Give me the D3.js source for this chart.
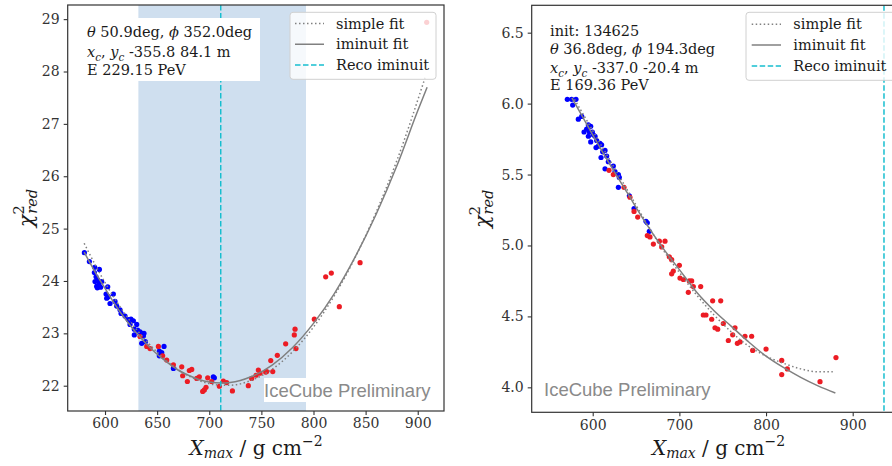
<!DOCTYPE html>
<html>
<head>
<meta charset="utf-8">
<script src="https://cdn.jsdelivr.net/npm/d3@7"></script>
<style>
  html, body { margin: 0; padding: 0; background: #fff; }
  svg { display: block; }
</style>
</head>
<body>
<svg id="chart" width="892" height="466"></svg>
<script>
// ---------------- DATA ----------------
// Left panel (event 1)
const leftXTicks = [600, 650, 700, 750, 800, 850, 900];
const leftYTicks = [22, 23, 24, 25, 26, 27, 28, 29];
const leftBlue = [[580.2,24.54],[585.0,24.37],[590.1,24.26],[594.6,24.22],[589.8,24.16],[591.4,24.08],[593.0,24.02],[590.4,23.99],[592.0,23.90],[594.6,23.96],[595.8,23.88],[592.6,23.87],[596.8,23.99],[602.6,23.89],[601.0,23.75],[603.2,23.70],[608.0,23.75],[601.6,23.67],[604.8,23.57],[609.6,23.61],[611.2,23.52],[614.4,23.45],[615.4,23.38],[619.2,23.33],[622.4,23.26],[624.9,23.27],[627.2,23.24],[630.4,23.17],[624.0,23.17],[628.1,23.08],[631.3,23.06],[628.1,22.97],[633.6,23.03],[635.2,23.00],[637.4,23.00],[636.8,22.95],[635.2,22.81],[638.7,22.84],[652.1,22.66],[654.4,22.63],[656.6,22.75],[652.1,22.57],[665.6,22.33],[703.9,22.17],[704.9,22.15]];
const leftRed = [[633.6,22.94],[640.0,22.75],[643.2,22.71],[651.2,22.75],[655.3,22.57],[659.2,22.49],[665.6,22.40],[673.6,22.36],[674.5,22.19],[680.9,22.29],[683.2,22.31],[679.0,22.08],[688.0,22.14],[690.5,22.17],[693.7,21.89],[695.3,21.92],[696.9,21.97],[698.5,22.15],[702.3,22.08],[709.7,21.99],[713.5,22.09],[716.7,22.06],[722.2,21.90],[737.5,22.00],[740.7,22.14],[744.9,22.20],[747.1,22.30],[748.7,22.24],[754.1,22.26],[755.1,22.27],[759.0,22.48],[760.9,22.27],[765.3,22.58],[773.3,22.80],[781.6,22.97],[782.3,23.08],[783.2,22.71],[800.8,23.27],[811.7,24.08],[817.1,24.15],[824.8,23.51],[844.7,24.35],[908.6,28.94]];
const leftIminuitFit = [[580,24.55],[590,24.19],[600,23.86],[610,23.54],[620,23.26],[630,23.01],[640,22.79],[650,22.60],[660,22.44],[670,22.30],[680,22.20],[690,22.12],[700,22.07],[712,22.05],[720,22.06],[740,22.17],[760,22.39],[780,22.73],[800,23.19],[820,23.76],[840,24.46],[860,25.27],[880,26.20],[900,27.25],[909,27.70]];
const leftSimpleFit = [[580,24.72],[590,24.33],[600,23.97],[610,23.64],[620,23.35],[630,23.08],[640,22.85],[650,22.64],[660,22.46],[670,22.31],[680,22.19],[690,22.10],[700,22.04],[712,22.01],[720,22.01],[740,22.10],[760,22.31],[780,22.65],[800,23.12],[820,23.72],[840,24.45],[860,25.31],[880,26.30],[907,27.88]];
const leftBand = [632, 792.8];
const leftReco = 711;
const leftInfo = ["θ 50.9deg, ϕ 352.0deg", "xc, yc -355.8 84.1 m", "E 229.15 PeV"];

// Right panel (event 2)
const rightXTicks = [600, 700, 800, 900];
const rightYTicks = [4.0, 4.5, 5.0, 5.5, 6.0, 6.5];
const rightBlue = [[570.7,6.03],[575.7,6.03],[580.7,6.03],[576.9,5.99],[587.3,5.91],[583.4,5.89],[595.0,5.85],[597.7,5.84],[593.0,5.82],[590.0,5.80],[596.1,5.80],[599.6,5.80],[600.7,5.78],[595.0,5.77],[602.7,5.77],[597.7,5.73],[604.6,5.74],[608.4,5.72],[606.5,5.70],[603.8,5.69],[610.3,5.71],[611.5,5.66],[614.2,5.67],[616.1,5.63],[609.6,5.62],[618.0,5.59],[614.2,5.54],[623.8,5.56],[625.7,5.52],[629.6,5.50],[630.7,5.48],[629.6,5.41],[642.3,5.35],[647.7,5.26],[661.5,5.17],[663.0,5.16],[665.3,5.10]];
const rightRed = [[618.8,5.53],[623.8,5.50],[636.1,5.41],[643.0,5.34],[647.7,5.24],[651.9,5.20],[663.0,5.07],[666.1,5.06],[670.0,5.01],[676.9,5.03],[683.4,5.03],[679.6,4.99],[688.4,4.92],[691.1,4.90],[700.0,4.86],[693.0,4.82],[691.1,4.80],[700.7,4.77],[704.6,4.76],[711.5,4.75],[714.2,4.75],[716.1,4.71],[710.3,4.67],[724.6,4.71],[738.4,4.61],[747.7,4.61],[727.6,4.51],[730.7,4.51],[737.3,4.48],[741.1,4.42],[744.2,4.41],[750.7,4.45],[764.2,4.42],[756.5,4.33],[761.5,4.37],[766.9,4.31],[770.0,4.32],[775.7,4.36],[783.4,4.36],[784.6,4.26],[800.0,4.27],[818.1,4.19],[824.6,4.13],[818.1,4.09],[862.3,4.04],[880.7,4.21]];
const rightIminuitFit = [[576,6.04],[600,5.78],[620,5.57],[640,5.37],[660,5.17],[680,4.99],[700,4.83],[720,4.67],[740,4.54],[760,4.43],[780,4.32],[800,4.22],[820,4.14],[840,4.07],[860,4.01],[880,3.96]];
const rightSimpleFit = [[579,6.03],[600,5.81],[620,5.60],[640,5.39],[660,5.18],[680,4.98],[700,4.81],[720,4.65],[740,4.51],[760,4.39],[780,4.29],[800,4.22],[820,4.17],[840,4.13],[860,4.11],[877,4.11]];
const rightReco = 936.1;
const rightInfo = ["init: 134625", "θ 36.8deg, ϕ 194.3deg", "xc, yc -337.0 -20.4 m", "E 169.36 PeV"];

const legendLabels = ["simple fit", "iminuit fit", "Reco iminuit"];
const watermark = "IceCube Preliminary";

// ---------------- STYLE ----------------
const SERIF = "'DejaVu Serif', serif";
const SANS = "'Liberation Sans', Arial, sans-serif";
const C_BLUE = "#0000ff", C_RED = "#ec1c24", C_FIT = "#808080", C_CYAN = "#17becf";
const C_AX = "#333";

const svg = d3.select("#chart");

function richLine(textSel, str, size) {
  const tokens = [];
  if (str.startsWith("xc, yc")) {
    tokens.push({t: "x", it: true}, {t: "c", it: true, sub: true}, {t: ", ", back: true},
                {t: "y", it: true}, {t: "c", it: true, sub: true}, {t: str.slice(6), back: true});
  } else {
    str.split(/([θϕ])/).forEach(p => { if (p.length) tokens.push({t: p, it: (p === "θ" || p === "ϕ")}); });
  }
  tokens.forEach(tk => {
    const ts = textSel.append("tspan").text(tk.t);
    if (tk.it) ts.attr("font-style", "italic");
    if (tk.sub) ts.attr("dy", 3.5).attr("font-size", size * 0.72);
    if (tk.back) ts.attr("dy", -3.5);
  });
}

function panel(cfg) {
  const x = d3.scaleLinear().domain(cfg.xDomain).range([cfg.left, cfg.right]);
  const y = d3.scaleLinear().domain(cfg.yDomain).range([cfg.bottom, cfg.top]);
  const g = svg.append("g");
  const clipId = "clip" + cfg.id;
  svg.append("clipPath").attr("id", clipId).append("rect")
    .attr("x", cfg.left).attr("y", cfg.top)
    .attr("width", cfg.right - cfg.left).attr("height", cfg.bottom - cfg.top);
  const plot = g.append("g").attr("clip-path", `url(#${clipId})`);

  if (cfg.band) {
    plot.append("rect")
      .attr("x", x(cfg.band[0])).attr("y", cfg.top)
      .attr("width", x(cfg.band[1]) - x(cfg.band[0])).attr("height", cfg.bottom - cfg.top)
      .attr("fill", "#cfdfef");
  }

  plot.append("g").selectAll("circle").data(cfg.blue).join("circle")
    .attr("cx", d => x(d[0])).attr("cy", d => y(d[1])).attr("r", 2.6).attr("fill", C_BLUE);
  plot.append("g").selectAll("circle").data(cfg.red).join("circle")
    .attr("cx", d => x(d[0])).attr("cy", d => y(d[1])).attr("r", 2.6).attr("fill", C_RED);

  const line = d3.line().x(d => x(d[0])).y(d => y(d[1])).curve(d3.curveMonotoneX);
  plot.append("path").datum(cfg.simple).attr("d", line)
    .attr("fill", "none").attr("stroke", C_FIT).attr("stroke-width", 1.5)
    .attr("stroke-dasharray", "1.5,2.5");
  plot.append("path").datum(cfg.iminuit).attr("d", line)
    .attr("fill", "none").attr("stroke", C_FIT).attr("stroke-width", 1.5);

  plot.append("line")
    .attr("x1", x(cfg.reco)).attr("x2", x(cfg.reco))
    .attr("y1", cfg.top).attr("y2", cfg.bottom)
    .attr("stroke", C_CYAN).attr("stroke-width", 1.5).attr("stroke-dasharray", "5.5,2.5");

  if (cfg.infoBox) {
    g.append("rect").attr("x", cfg.infoBox[0]).attr("y", cfg.infoBox[1])
      .attr("width", cfg.infoBox[2]).attr("height", cfg.infoBox[3]).attr("fill", "#fff");
  }
  cfg.info.forEach((s, i) => {
    const t = g.append("text").attr("x", cfg.infoX).attr("y", cfg.infoY[i])
      .attr("font-family", SERIF).attr("font-size", 14.5).attr("fill", "#1a1a1a");
    richLine(t, s, 14.5);
  });

  if (cfg.wmBox) {
    g.append("rect").attr("x", cfg.wmBox[0]).attr("y", cfg.wmBox[1])
      .attr("width", cfg.wmBox[2]).attr("height", cfg.wmBox[3]).attr("fill", "#fff");
  }
  g.append("text").attr("x", cfg.wmX).attr("y", cfg.wmY)
    .attr("font-family", SANS).attr("font-size", 18.5).attr("fill", "#8a8a8a")
    .text(watermark);

  const lg = g.append("g").attr("clip-path", `url(#${clipId})`);
  lg.append("rect").attr("x", cfg.legend.x).attr("y", cfg.legend.y)
    .attr("width", cfg.legend.w).attr("height", cfg.legend.h).attr("rx", 3)
    .attr("fill", "#fff").attr("fill-opacity", 0.8).attr("stroke", "#d0d0d0").attr("stroke-width", 1);
  const styles = [
    {stroke: C_FIT, dash: "1.5,2.5"},
    {stroke: C_FIT, dash: null},
    {stroke: C_CYAN, dash: "5.5,2.5"}
  ];
  legendLabels.forEach((lab, i) => {
    const ly = cfg.legend.rows[i];
    const ln = lg.append("line").attr("x1", cfg.legend.sx0).attr("x2", cfg.legend.sx1)
      .attr("y1", ly).attr("y2", ly).attr("stroke", styles[i].stroke).attr("stroke-width", 1.5);
    if (styles[i].dash) ln.attr("stroke-dasharray", styles[i].dash);
    lg.append("text").attr("x", cfg.legend.tx).attr("y", ly + 5)
      .attr("font-family", SERIF).attr("font-size", 14.5).attr("fill", "#1a1a1a").text(lab);
  });

  g.append("rect").attr("x", cfg.left).attr("y", cfg.top)
    .attr("width", cfg.right - cfg.left).attr("height", cfg.bottom - cfg.top)
    .attr("fill", "none").attr("stroke", C_AX).attr("stroke-width", 1.2);

  const xa = g.append("g").attr("transform", `translate(0,${cfg.bottom})`)
    .call(d3.axisBottom(x).tickValues(cfg.xTicks).tickSize(4).tickPadding(3.5).tickFormat(d3.format("d")));
  const ya = g.append("g").attr("transform", `translate(${cfg.left},0)`)
    .call(d3.axisLeft(y).tickValues(cfg.yTicks).tickSize(4).tickPadding(4).tickFormat(cfg.yFmt));
  [xa, ya].forEach(a => {
    a.select(".domain").remove();
    a.selectAll("line").attr("stroke", C_AX).attr("stroke-width", 1.1);
    a.selectAll("text").attr("font-family", SERIF).attr("font-size", 14).attr("fill", "#333");
  });

  const xl = g.append("text").attr("x", cfg.xLabelX).attr("y", 455)
    .attr("text-anchor", "middle").attr("font-family", SERIF).attr("font-size", 20).attr("fill", "#1a1a1a");
  xl.append("tspan").attr("font-style", "italic").text("X");
  xl.append("tspan").attr("font-style", "italic").attr("font-size", 14).attr("dy", 3).text("max");
  xl.append("tspan").attr("dy", -3).text(" / g cm");
  xl.append("tspan").attr("font-size", 14).attr("dy", -9).text("−2");

  const cy = (cfg.top + cfg.bottom) / 2;
  const yl = g.append("text").attr("transform", `translate(${cfg.yLabelX},${cy}) rotate(-90)`)
    .attr("text-anchor", "middle").attr("font-family", SERIF).attr("font-size", 21).attr("fill", "#1a1a1a");
  yl.append("tspan").attr("font-style", "italic").text("χ");
  yl.append("tspan").attr("font-size", 14.5).attr("dy", -9).text("2");
  yl.append("tspan").attr("font-size", 14.5).attr("font-style", "italic").attr("dx", -8.5).attr("dy", 13).text("red");
}

panel({
  id: "L", left: 67.7, right: 444, top: 5, bottom: 411,
  xDomain: [564.2, 925.2], yDomain: [21.517, 29.27],
  xTicks: leftXTicks, yTicks: leftYTicks, yFmt: d3.format("d"),
  blue: leftBlue, red: leftRed, simple: leftSimpleFit, iminuit: leftIminuitFit,
  band: leftBand, reco: leftReco,
  infoBox: [80, 18, 180, 63], info: leftInfo, infoX: 87, infoY: [37, 57, 75],
  wmBox: [264, 378, 168, 24], wmX: 264, wmY: 397,
  legend: {x: 290, y: 12.3, w: 146, h: 67, rows: [23.5, 44.3, 65], sx0: 295, sx1: 324, tx: 336},
  xLabelX: 256, yLabelX: 33
});

panel({
  id: "R", left: 531.7, right: 893, top: 5.3, bottom: 412.3,
  xDomain: [529.6, 946.5], yDomain: [3.824, 6.693],
  xTicks: rightXTicks, yTicks: rightYTicks, yFmt: d3.format(".1f"),
  blue: rightBlue, red: rightRed, simple: rightSimpleFit, iminuit: rightIminuitFit,
  band: null, reco: rightReco,
  infoBox: null, info: rightInfo, infoX: 550, infoY: [36, 54, 73, 90],
  wmBox: null, wmX: 544, wmY: 396,
  legend: {x: 746, y: 12.3, w: 160, h: 68, rows: [24.3, 45, 66], sx0: 751.7, sx1: 781, tx: 793.3},
  xLabelX: 718.5, yLabelX: 489
});
</script>
</body>
</html>
